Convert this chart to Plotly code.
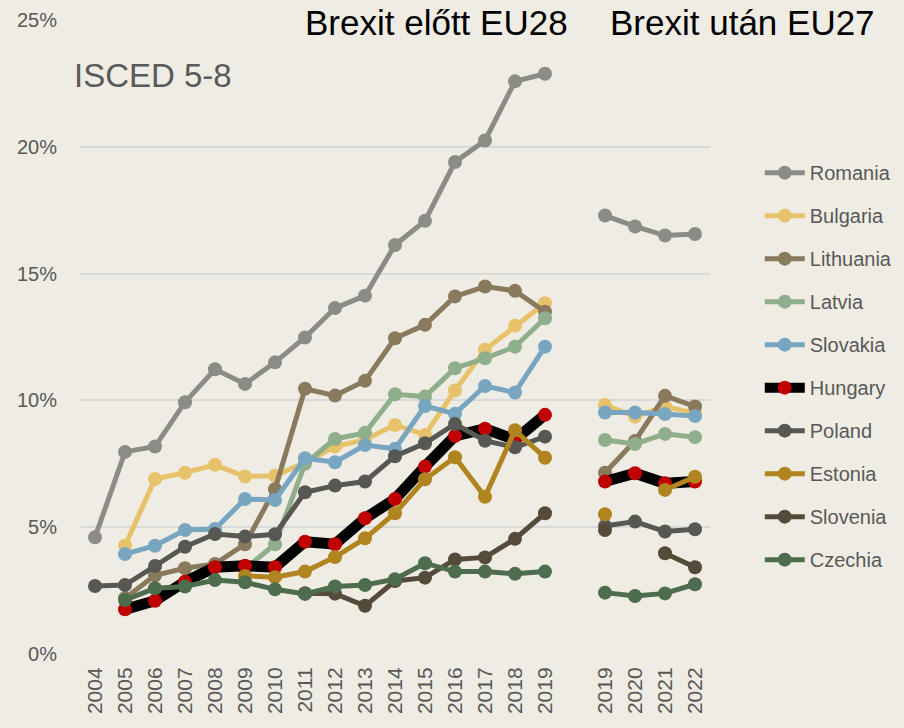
import plotly.graph_objects as go

years_pre = [2004, 2005, 2006, 2007, 2008, 2009, 2010, 2011, 2012, 2013, 2014, 2015, 2016, 2017, 2018, 2019]
years_post = [2019, 2020, 2021, 2022]

romania_pre = [4.6, 7.97, 8.18, 9.93, 11.23, 10.65, 11.5, 12.48, 13.64, 14.13, 16.13, 17.08, 19.4, 20.25, 22.58, 22.88]
romania_post = [17.29, 16.86, 16.5, 16.56]
bulgaria_pre = [None, 4.27, 6.9, 7.15, 7.46, 7.0, 7.03, 7.55, 8.18, 8.45, 9.03, 8.64, 10.39, 12.0, 12.94, 13.83]
bulgaria_post = [9.82, 9.36, 9.76, 9.5]
lithuania_pre = [None, 2.2, 3.1, 3.38, 3.55, 4.33, 6.5, 10.46, 10.19, 10.77, 12.45, 12.98, 14.1, 14.49, 14.32, 13.5]
lithuania_post = [7.15, 8.4, 10.18, 9.76]
latvia_pre = [None, None, None, None, None, 3.35, 4.33, 7.5, 8.48, 8.72, 10.24, 10.15, 11.27, 11.66, 12.12, 13.24]
latvia_post = [8.44, 8.28, 8.68, 8.55]
slovakia_pre = [None, 3.94, 4.27, 4.89, 4.93, 6.11, 6.07, 7.72, 7.56, 8.24, 8.09, 9.78, 9.47, 10.57, 10.31, 12.12]
slovakia_post = [9.52, 9.52, 9.46, 9.38]
hungary_pre = [None, 1.76, 2.1, 2.85, 3.42, 3.48, 3.42, 4.43, 4.33, 5.35, 6.11, 7.39, 8.6, 8.88, 8.45, 9.43]
hungary_post = [6.8, 7.13, 6.73, 6.8]
poland_pre = [2.68, 2.72, 3.47, 4.23, 4.73, 4.63, 4.72, 6.38, 6.64, 6.8, 7.8, 8.31, 9.07, 8.41, 8.15, 8.57]
poland_post = [5.05, 5.22, 4.83, 4.92]
estonia_pre = [None, None, None, None, None, 3.08, 3.03, 3.25, 3.82, 4.56, 5.55, 6.89, 7.76, 6.2, 8.82, 7.74]
estonia_post = [5.51, None, 6.47, 6.99]
slovenia_pre = [None, None, None, None, None, None, None, 2.4, 2.38, 1.9, 2.88, 3.01, 3.73, 3.81, 4.54, 5.55]
slovenia_post = [4.89, None, 3.97, 3.42]
czechia_pre = [None, 2.13, 2.59, 2.66, 2.92, 2.83, 2.55, 2.37, 2.66, 2.72, 2.95, 3.58, 3.25, 3.25, 3.16, 3.25]
czechia_post = [2.42, 2.29, 2.39, 2.75]

y_ticks = [0, 5, 10, 15, 20, 25]
y_tick_labels = ["0%", "5%", "10%", "15%", "20%", "25%"]

countries = ["Romania", "Bulgaria", "Lithuania", "Latvia", "Slovakia", "Hungary",
             "Poland", "Estonia", "Slovenia", "Czechia"]
values = {
    "Romania": (romania_pre, romania_post),
    "Bulgaria": (bulgaria_pre, bulgaria_post),
    "Lithuania": (lithuania_pre, lithuania_post),
    "Latvia": (latvia_pre, latvia_post),
    "Slovakia": (slovakia_pre, slovakia_post),
    "Hungary": (hungary_pre, hungary_post),
    "Poland": (poland_pre, poland_post),
    "Estonia": (estonia_pre, estonia_post),
    "Slovenia": (slovenia_pre, slovenia_post),
    "Czechia": (czechia_pre, czechia_post),
}
colors = {
    "Romania": "#8b8c86",
    "Bulgaria": "#e8c26b",
    "Lithuania": "#8a7a5d",
    "Latvia": "#8fae8c",
    "Slovakia": "#78a6c1",
    "Hungary": "#000000",
    "Poland": "#575753",
    "Estonia": "#b0841f",
    "Slovenia": "#554b3b",
    "Czechia": "#4e6d4e",
}

# positions: pre-Brexit years on slots 0..15, one empty slot, post-Brexit on 17..20
x_pre = list(range(len(years_pre)))
x_post = [len(years_pre) + 1 + i for i in range(len(years_post))]
x_all = x_pre + [None] + x_post
tick_vals = x_pre + x_post
tick_text = [str(y) for y in years_pre + years_post]

BG = "#efece4"
TXT = "#595959"
FONT = "Liberation Sans"

fig = go.Figure()
for c in countries:
    pre, post = values[c]
    y = list(pre) + [None] + list(post)
    if c == "Hungary":
        line = dict(color="#000000", width=11)
        marker = dict(color="#c00000", size=14)
    else:
        line = dict(color=colors[c], width=5)
        marker = dict(color=colors[c], size=14)
    fig.add_trace(go.Scatter(
        x=x_all, y=y, mode="lines+markers", name=c,
        line=line, marker=marker, connectgaps=False,
        legendgroup=c,
    ))

fig.update_layout(
    width=904, height=728,
    paper_bgcolor=BG, plot_bgcolor=BG,
    margin=dict(l=80, r=194, t=20, b=74, autoexpand=False),
    font=dict(family=FONT, color=TXT, size=18),
    showlegend=True,
    legend=dict(
        x=1.079, xanchor="left", y=0.79, yanchor="top",
        font=dict(size=20, color=TXT, family=FONT),
        bgcolor="rgba(0,0,0,0)",
        tracegroupgap=14,
        itemwidth=40,
    ),
    xaxis=dict(
        range=[-0.5, 20.5], tickmode="array", tickvals=tick_vals, ticktext=tick_text,
        tickangle=-90, showgrid=False, zeroline=False, showline=False,
        tickfont=dict(size=21, color=TXT, family=FONT),
        ticks="outside", ticklen=4, tickcolor="rgba(0,0,0,0)",
    ),
    yaxis=dict(
        range=[0, 25], tickmode="array", tickvals=y_ticks, ticktext=y_tick_labels,
        showgrid=True, gridcolor="#d9d9d9", gridwidth=1.5, zeroline=False, showline=False,
        tickfont=dict(size=20, color=TXT, family=FONT),
        ticks="outside", ticklen=18, tickcolor="rgba(0,0,0,0)",
    ),
    annotations=[
        dict(text="Brexit előtt EU28", x=0.778, y=0.996, xref="paper", yref="paper",
             xanchor="right", yanchor="middle", showarrow=False,
             font=dict(size=35, color="#000000", family=FONT)),
        dict(text="Brexit után EU27", x=0.838, y=0.996, xref="paper", yref="paper",
             xanchor="left", yanchor="middle", showarrow=False,
             font=dict(size=35, color="#000000", family=FONT)),
        dict(text="ISCED 5-8", x=-0.012, y=0.912, xref="paper", yref="paper",
             xanchor="left", yanchor="middle", showarrow=False,
             font=dict(size=33, color=TXT, family=FONT)),
    ],
)

fig.write_html("out.html", config={"displayModeBar": False},
               post_script="document.body.style.margin='0';")
